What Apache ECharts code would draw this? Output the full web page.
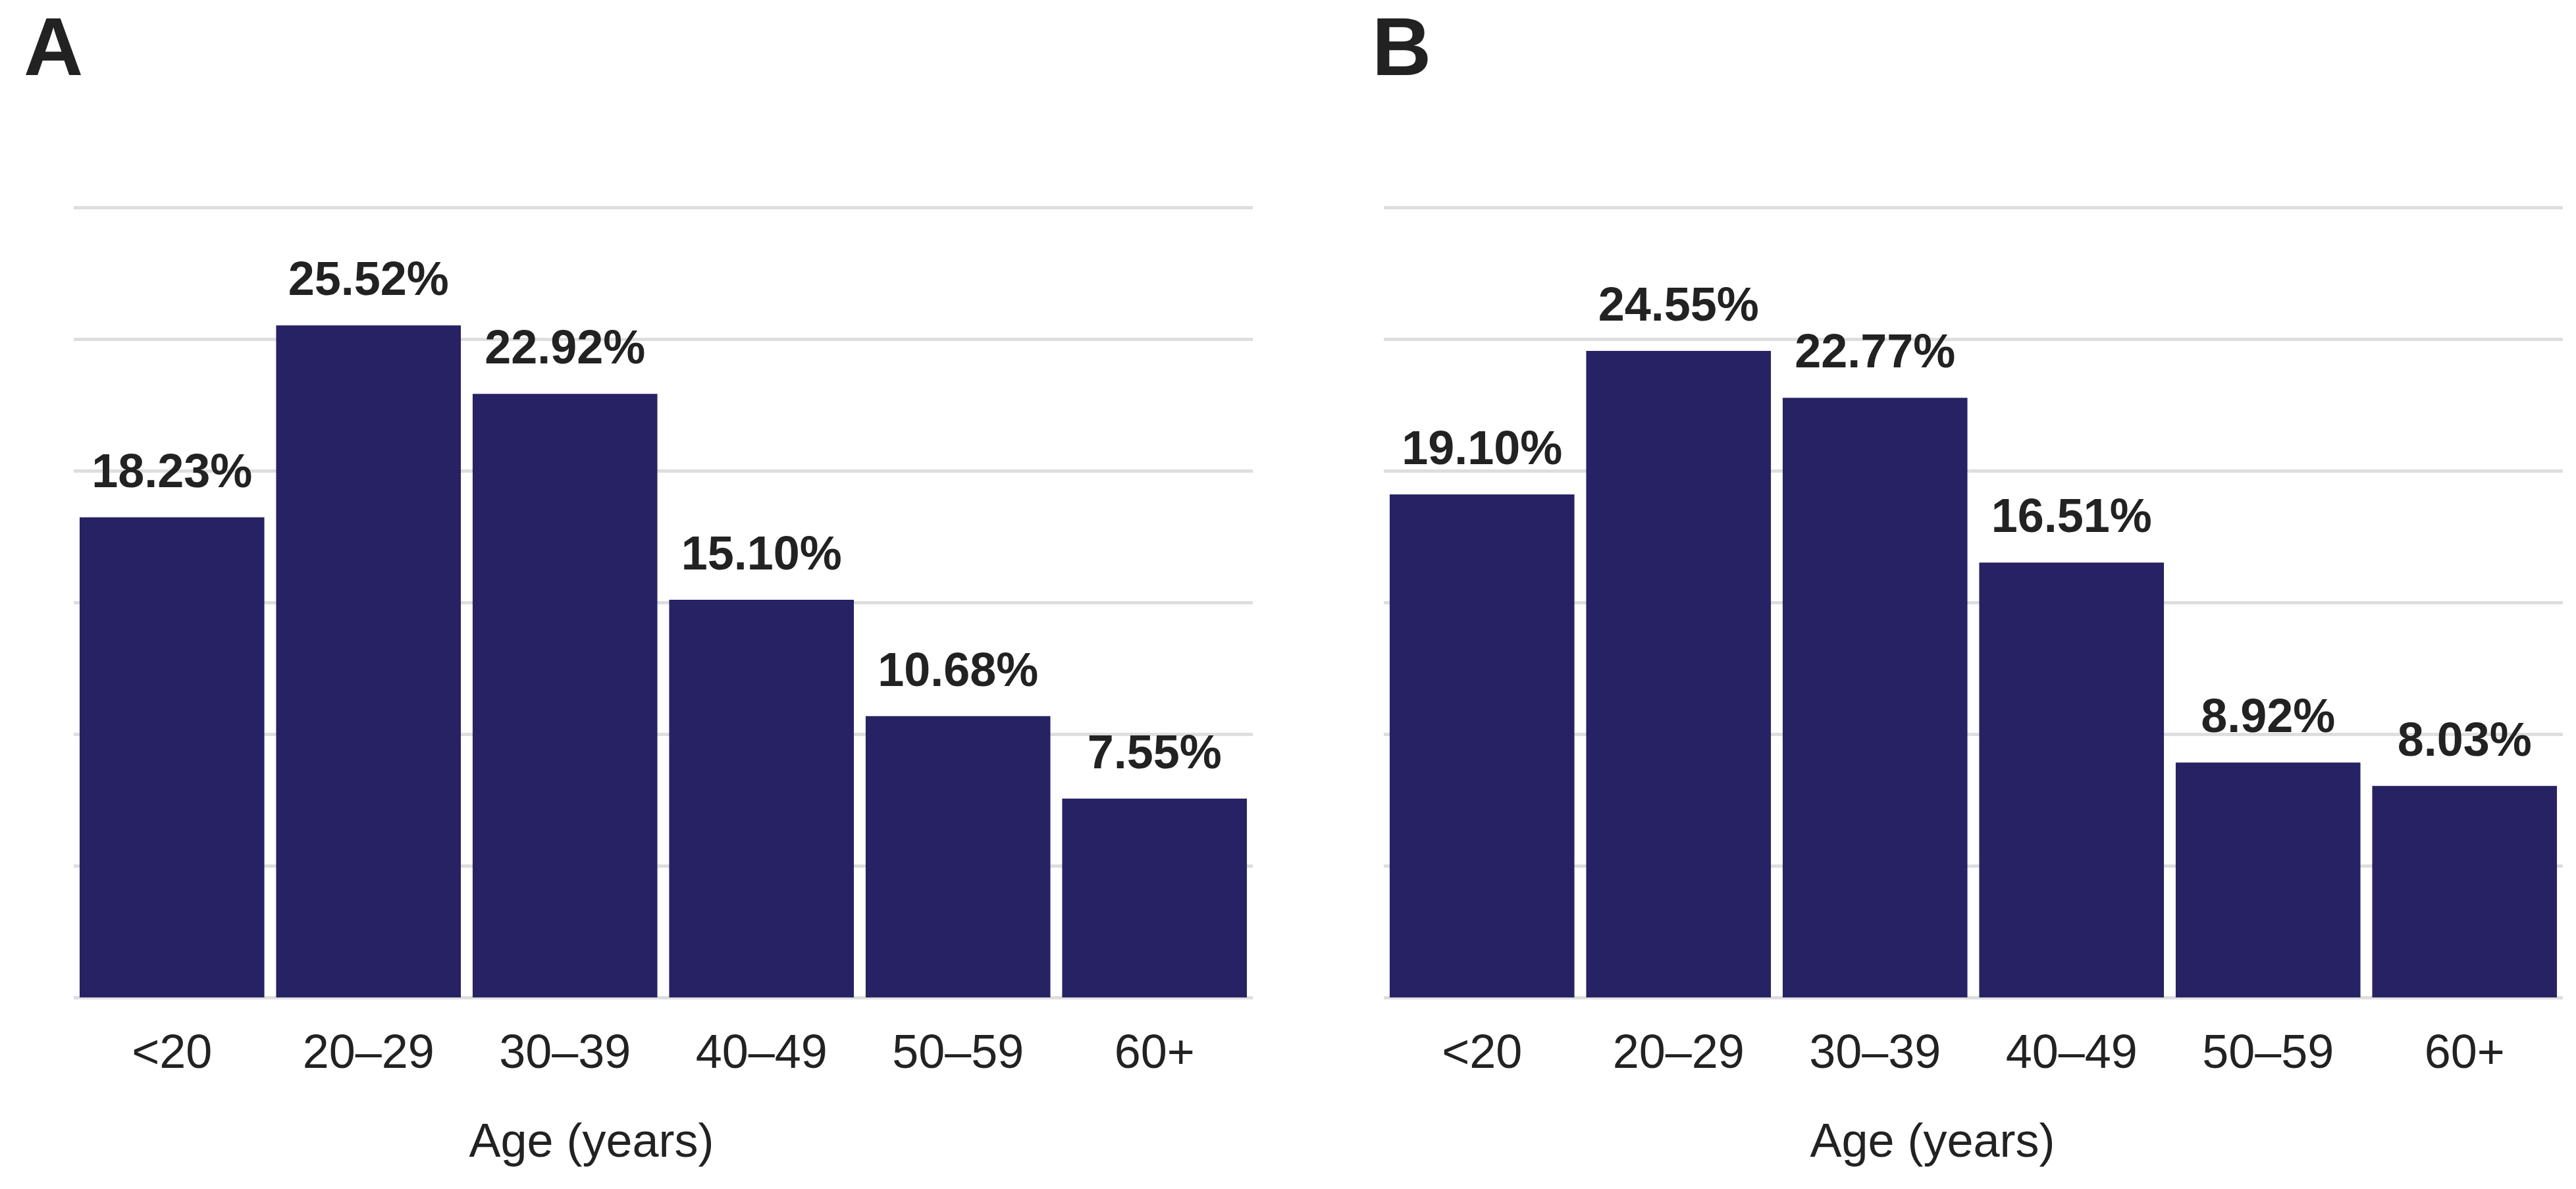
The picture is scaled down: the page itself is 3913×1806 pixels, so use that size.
<!DOCTYPE html>
<html>
<head>
<meta charset="utf-8">
<script src="https://cdn.jsdelivr.net/npm/echarts@6/dist/echarts.min.js"></script>
<style>
html,body{margin:0;padding:0;background:#fff;}
#chart{width:3913px;height:1806px;}
</style>
</head>
<body>
<div id="chart"></div>
<script>
var categories = ['<20', '20–29', '30–39', '40–49', '50–59', '60+'];
var valuesA = [18.23, 25.52, 22.92, 15.10, 10.68, 7.55];
var valuesB = [19.10, 24.55, 22.77, 16.51, 8.92, 8.03];
var panelTitles = ['A', 'B'];
var axisName = 'Age (years)';
var yMin = 0, yMax = 30, yInterval = 5;

var FONT = '"Liberation Sans", Arial, Helvetica, sans-serif';
var BAR = '#272263';
var GRIDC = '#dedede';
var TXT = '#222222';

function xAxis(idx, padR) {
  return {
    type: 'category', gridIndex: idx, data: categories,
    axisLine: {show: false}, axisTick: {show: false},
    axisLabel: {color: TXT, fontFamily: FONT, fontSize: 72, margin: 51},
    name: axisName, nameLocation: 'middle', nameGap: 186,
    nameTextStyle: {color: TXT, fontFamily: FONT, fontSize: 72, padding: [0, padR, 0, 0]}
  };
}
function yAxis(idx) {
  return {
    type: 'value', gridIndex: idx, min: yMin, max: yMax, interval: yInterval,
    axisLabel: {show: false}, axisLine: {show: false}, axisTick: {show: false},
    splitLine: {show: true, lineStyle: {color: GRIDC, width: 5}}
  };
}
function series(idx, vals) {
  return {
    type: 'bar', xAxisIndex: idx, yAxisIndex: idx, data: vals,
    barCategoryGap: '6%',
    itemStyle: {color: BAR},
    label: {
      show: true, position: 'top', distance: 30,
      color: TXT, fontFamily: FONT, fontSize: 72, fontWeight: 'bold',
      formatter: function (p) { return p.value.toFixed(2) + '%'; }
    },
    z: 3
  };
}

var chart = echarts.init(document.getElementById('chart'), null, {renderer: 'canvas'});
chart.setOption({
  animation: false,
  backgroundColor: '#ffffff',
  title: [
    {text: panelTitles[0], left: 36, top: 17, padding: 0,
     textStyle: {fontFamily: FONT, fontSize: 125, fontWeight: 'bold', color: TXT}},
    {text: panelTitles[1], left: 2084, top: 17, padding: 0,
     textStyle: {fontFamily: FONT, fontSize: 125, fontWeight: 'bold', color: TXT}}
  ],
  grid: [
    {left: 112, width: 1791, top: 315, bottom: 291},
    {left: 2102, width: 1791, top: 315, bottom: 291}
  ],
  xAxis: [xAxis(0, 218), xAxis(1, 124)],
  yAxis: [yAxis(0), yAxis(1)],
  series: [series(0, valuesA), series(1, valuesB)]
});
</script>
</body>
</html>
